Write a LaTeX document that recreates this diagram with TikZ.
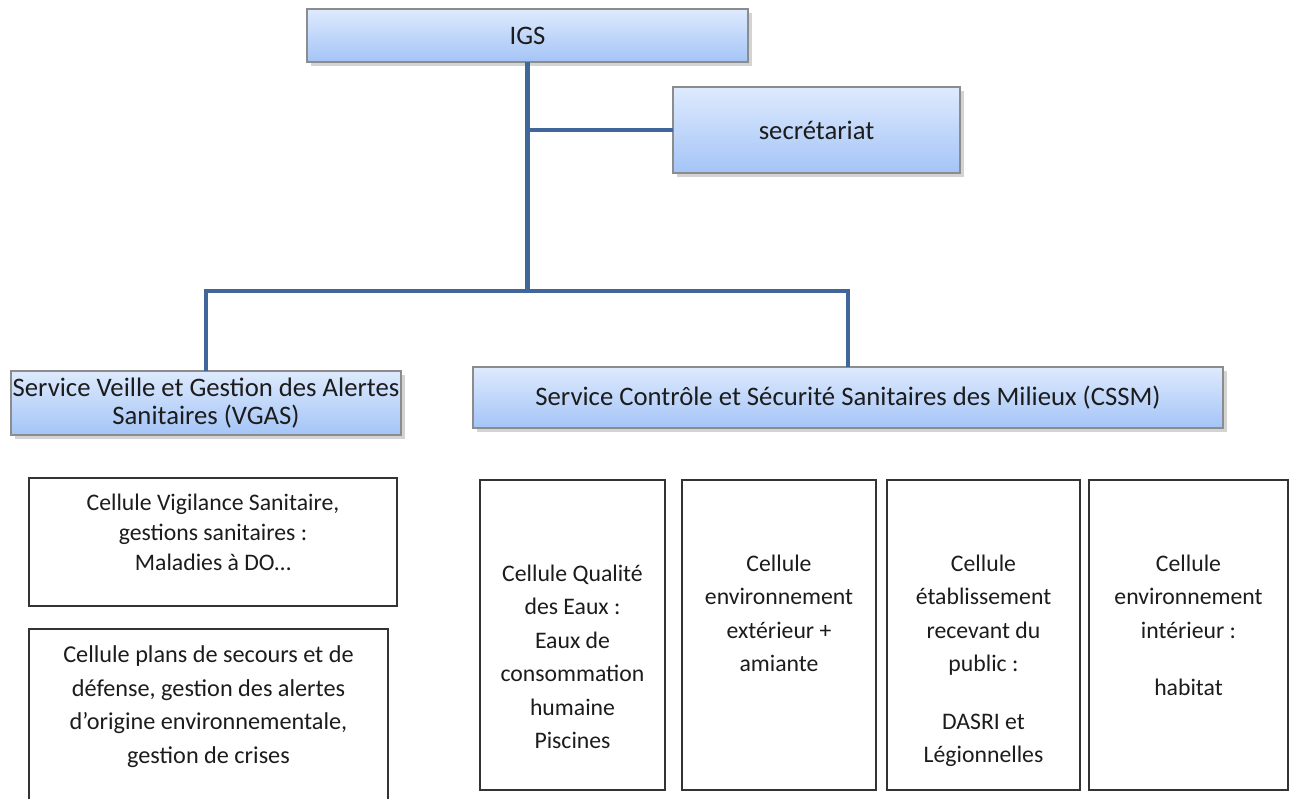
\documentclass[tikz,border=0pt]{standalone}
\usepackage{fontspec}
\setmainfont{Carlito}
\usetikzlibrary{calc,shadows}
\definecolor{lineBlue}{HTML}{41679A}
\definecolor{boxTop}{HTML}{DEEAFD}
\definecolor{boxBottom}{HTML}{A4C4F7}
\definecolor{textDark}{HTML}{1C1C1C}

\begin{document}
\begin{tikzpicture}[
  font=\fontsize{13.5}{19}\selectfont,
  text=textDark,
  unitBox/.style={draw=black!45, line width=0.6pt, top color=boxTop, bottom color=boxBottom,
    inner sep=0pt, outer sep=0pt, align=center, font=\fontsize{15.2}{16.2}\selectfont,
    drop shadow={opacity=0.35, shadow xshift=2.5pt, shadow yshift=-2.5pt}},
  cellBox/.style={draw=black!80, line width=0.8pt, fill=white, inner sep=0pt, outer sep=0pt},
  cellText/.style={align=center, inner sep=0pt, outer sep=0pt, anchor=north},
  link/.style={draw=lineBlue, line width=2.3pt}
]
\useasboundingbox (0,0) rectangle (25.92,-15.96);

% direction and services
\node[unitBox, minimum width=8.82cm, minimum height=1.06cm] (igs) at (10.55,-0.71) {IGS};
\node[unitBox, minimum width=5.74cm, minimum height=1.72cm] (secr) at (16.33,-2.60) {secrétariat};
\node[unitBox, minimum width=7.80cm, minimum height=1.28cm] (vgas) at (4.12,-8.06)
  {Service Veille et Gestion des Alertes\\Sanitaires (VGAS)};
\node[unitBox, minimum width=15.0cm, minimum height=1.22cm] (cssm) at (16.96,-7.95)
  {Service Contrôle et Sécurité Sanitaires des Milieux (CSSM)};

\coordinate (bus) at ($(igs.south)+(0,-4.58)$);
\draw[link] (igs.south) -- (bus);
\draw[link] (igs.south |- secr.west) -- (secr.west);
\draw[link] (vgas.north) |- (bus) -| (cssm.north);

% cellules VGAS
\node[cellBox, minimum width=7.36cm, minimum height=2.56cm] (vigil) at (4.26,-10.84) {};
\node[cellBox, minimum width=7.18cm, minimum height=4.02cm] (plans) at (4.17,-14.59) {};

% cellules CSSM
\node[cellBox, minimum width=3.70cm, minimum height=6.20cm] (eaux) at (11.45,-12.70) {};
\node[cellBox, minimum width=3.88cm, minimum height=6.20cm] (ext) at (15.58,-12.70) {};
\node[cellBox, minimum width=3.86cm, minimum height=6.20cm] (erp) at (19.67,-12.70) {};
\node[cellBox, minimum width=3.98cm, minimum height=6.20cm] (int) at (23.77,-12.70) {};

\node[cellText, font=\fontsize{13.5}{17}\selectfont] at ([yshift=-0.32cm]vigil.north)
  {Cellule Vigilance Sanitaire,\\gestions sanitaires :\\Maladies à DO…};
\node[cellText, font=\fontsize{13.8}{19}\selectfont] at ([yshift=-0.34cm]plans.north)
  {Cellule plans de secours et de\\défense, gestion des alertes\\d’origine environnementale,\\gestion de crises};
\node[cellText] at ([yshift=-1.70cm]eaux.north)
  {Cellule Qualité\\des Eaux :\\Eaux de\\consommation\\humaine\\Piscines};
\node[cellText] at ([yshift=-1.50cm]ext.north)
  {Cellule\\environnement\\extérieur +\\amiante};
\node[cellText] at ([yshift=-1.50cm]erp.north)
  {Cellule\\établissement\\recevant du\\public :\\[0.48cm]DASRI et\\Légionnelles};
\node[cellText] at ([yshift=-1.50cm]int.north)
  {Cellule\\environnement\\intérieur :\\[0.48cm]habitat};
\end{tikzpicture}
\end{document}
